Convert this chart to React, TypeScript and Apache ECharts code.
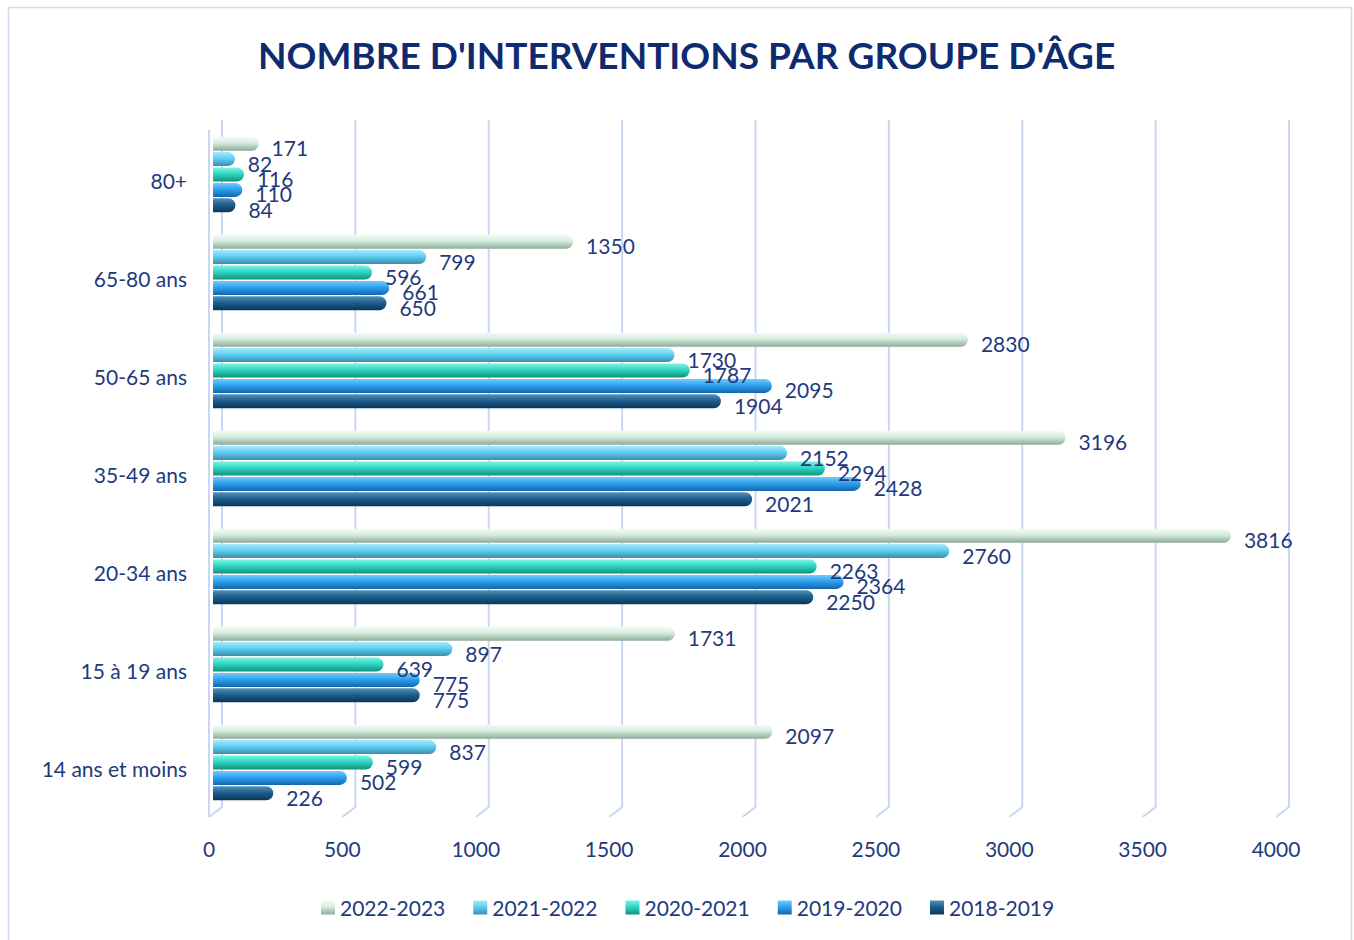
import React, { useEffect, useRef } from "react";
import * as echarts from "echarts";

const categories = ["14 ans et moins", "15 à 19 ans", "20-34 ans", "35-49 ans", "50-65 ans", "65-80 ans", "80+"];
const seriesNames = ["2022-2023", "2021-2022", "2020-2021", "2019-2020", "2018-2019"];
const s2022 = [2097, 1731, 3816, 3196, 2830, 1350, 171];
const s2021 = [837, 897, 2760, 2152, 1730, 799, 82];
const s2020 = [599, 639, 2263, 2294, 1787, 596, 116];
const s2019 = [502, 775, 2364, 2428, 2095, 661, 110];
const s2018 = [226, 775, 2250, 2021, 1904, 650, 84];
const seriesValues = [s2022, s2021, s2020, s2019, s2018];
const gridValues = [0, 500, 1000, 1500, 2000, 2500, 3000, 3500, 4000];

const palettes = [
  ["#f5fcf7", "#d4ecdd", "#8fab9a"],
  ["#a6e9fc", "#60cff2", "#3a8cae"],
  ["#7ef3e3", "#2fd7c3", "#12907f"],
  ["#74ccff", "#2ea2ee", "#1366ae"],
  ["#5790b6", "#1d5f8e", "#0b365a"],
];

const NAVY = "#1f3a7c";
const FONT = "Lato";

function grad(p: string[]) {
  return new echarts.graphic.LinearGradient(0, 0, 0, 1, [
    { offset: 0, color: p[0] },
    { offset: 0.45, color: p[1] },
    { offset: 1, color: p[2] },
  ]);
}

export default function App() {
  const ref = useRef<HTMLDivElement>(null);
  useEffect(() => {
    document.body.style.margin = "0";
    document.body.style.overflow = "hidden";
    const chart = echarts.init(ref.current!, null, { renderer: "svg" });
    const barSeries = seriesNames.map((name, i) => ({
      name,
      type: "bar",
      xAxisIndex: 0,
      yAxisIndex: 0,
      data: seriesValues[i],
      barWidth: 14,
      barGap: "10%",
      z: 3,
      itemStyle: { color: grad(palettes[i]), borderRadius: [0, 7, 7, 0] },
      label: {
        show: true,
        position: "right",
        distance: 13,
        offset: [0, 4],
        color: NAVY,
        fontFamily: FONT,
        fontSize: 21,
      },
    }));
    chart.setOption({
      animation: false,
      backgroundColor: "#ffffff",
      title: {
        text: "NOMBRE D'INTERVENTIONS PAR GROUPE D'ÂGE",
        left: 253,
        top: 31,
        textStyle: { fontFamily: FONT, fontWeight: "bold", fontSize: 37, color: "#0f2b70" },
      },
      legend: {
        data: seriesNames,
        left: 316,
        top: 892,
        icon: "rect",
        itemWidth: 14,
        itemHeight: 14,
        itemGap: 28,
        textStyle: { fontFamily: FONT, fontSize: 21, color: NAVY },
      },
      graphic: [
        {
          type: "rect",
          shape: { x: 8.5, y: 7.5, width: 1343, height: 960 },
          style: { fill: "none", stroke: "#cfdaf1", lineWidth: 1.5 },
          silent: true,
        },
      ],
      grid: [
        { left: 213, top: 125.5, width: 1067, height: 686 },
        { left: 222, top: 120, width: 1067, height: 687 },
        { left: 213, top: 131, width: 1067, height: 686 },
      ],
      xAxis: [
        {
          type: "value",
          gridIndex: 0,
          min: 0,
          max: 4000,
          interval: 500,
          axisLine: { show: false },
          axisTick: { show: false },
          splitLine: { show: false },
          axisLabel: {
            margin: 26,
            color: NAVY,
            fontFamily: FONT,
            fontSize: 21,
            padding: [0, 8, 0, 0],
            formatter: (v: number) => String(v),
          },
        },
        { type: "value", gridIndex: 1, min: 0, max: 4000, interval: 500, show: false },
        { type: "value", gridIndex: 2, min: 0, max: 4000, interval: 500, show: false },
      ],
      yAxis: [
        {
          type: "category",
          gridIndex: 0,
          data: categories,
          axisLine: { show: false },
          axisTick: { show: false },
          axisLabel: { show: false },
        },
        { type: "value", gridIndex: 1, min: 0, max: 1, show: false },
        {
          type: "category",
          gridIndex: 2,
          data: categories,
          axisLine: { show: false },
          axisTick: { show: false },
          axisLabel: { margin: 26, color: NAVY, fontFamily: FONT, fontSize: 21 },
        },
      ],
      series: [
        {
          type: "custom",
          xAxisIndex: 1,
          yAxisIndex: 1,
          silent: true,
          z: 1,
          data: gridValues.map((v) => [v]),
          encode: { x: 0 },
          renderItem: (params: any, api: any) => {
            const v = api.value(0);
            const top = api.coord([v, 1]);
            const bot = api.coord([v, 0]);
            const stroke = "#c9d7f5";
            const children: any[] = [
              {
                type: "polyline",
                shape: { points: [[top[0], top[1]], [bot[0], bot[1]], [bot[0] - 13, bot[1] + 10]] },
                style: { stroke, lineWidth: 2, fill: "none" },
              },
            ];
            if (v === 0) {
              children.push({
                type: "line",
                shape: { x1: top[0] - 13, y1: top[1] + 10, x2: bot[0] - 13, y2: bot[1] + 10 },
                style: { stroke, lineWidth: 2 },
              });
            }
            return { type: "group", children };
          },
        },
        ...barSeries,
      ],
    });
    return () => chart.dispose();
  }, []);
  return <div ref={ref} style={{ width: 1354, height: 940 }} />;
}
